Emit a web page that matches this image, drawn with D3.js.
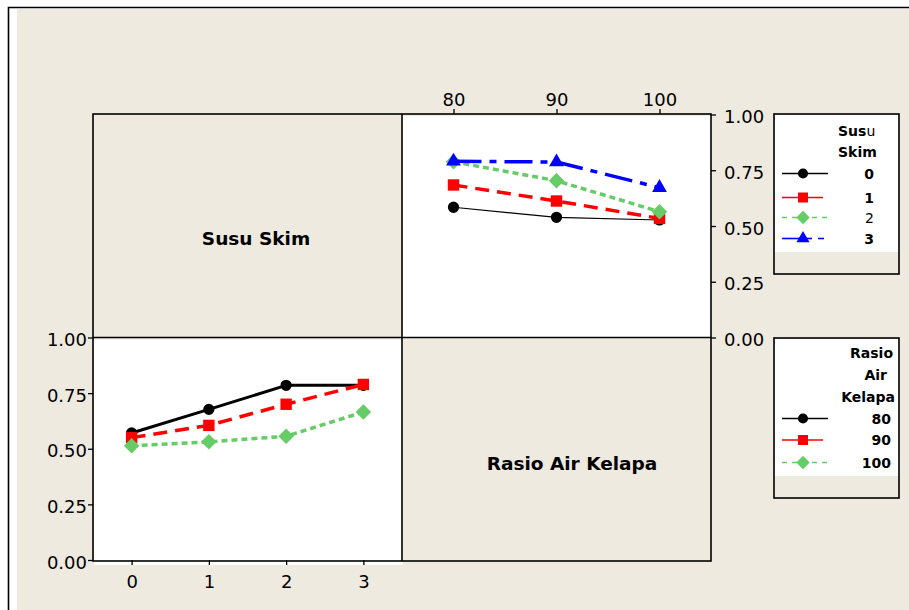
<!DOCTYPE html>
<html><head><meta charset="utf-8">
<script src="https://cdn.jsdelivr.net/npm/d3@7"></script>
<style>
html,body{margin:0;padding:0;background:#fff;}
svg{display:block;font-family:"DejaVu Sans",Verdana,sans-serif;}
</style></head>
<body>
<svg id="chart" width="909" height="610"></svg>
<script>
// ---------- data ----------
const susuLevels = [0, 1, 2, 3];
const rasioLevels = [80, 90, 100];
const yTicks = [0, 0.25, 0.5, 0.75, 1];
const yTickLabels = ["0.00", "0.25", "0.50", "0.75", "1.00"];

// Top-right panel: x = Rasio Air Kelapa, one line per Susu Skim level
const trSusu0 = [0.584, 0.539, 0.527];
const trSusu1 = [0.684, 0.612, 0.534];
const trSusu2 = [0.788, 0.703, 0.564];
const trSusu3 = [0.790, 0.787, 0.672];

// Bottom-left panel: x = Susu Skim, one line per Rasio Air Kelapa level
const blRasio80  = [0.571, 0.677, 0.785, 0.785];
const blRasio90  = [0.550, 0.605, 0.700, 0.789];
const blRasio100 = [0.513, 0.531, 0.556, 0.665];

const susuLegendLabels = ["0", "1", "2", "3"];
const rasioLegendLabels = ["80", "90", "100"];
const titleSusu = "Susu Skim";
const titleRasio = "Rasio Air Kelapa";

// ---------- styles ----------
const BG = "#EEEAE0";
const styles = [
  {color:"#000000", sym:"circle",   dashTR:null,           dashBL:null,          wTR:1.2, wBL:3},
  {color:"#FF0000", sym:"square",   dashTR:"14,8",         dashBL:"14,8",        wTR:3.5, wBL:3.5},
  {color:"#66CC66", sym:"diamond",  dashTR:"6,4",          dashBL:"6,4",         wTR:3.5, wBL:3.5},
  {color:"#0000FF", sym:"triangle", dashTR:"28,8,7,8",     dashBL:"28,8,7,8",    wTR:3.5, wBL:3.5}
];
function symPath(sym, big){
  const s = big ? {circle:100, square:130, diamond:120, triangle:95}
                : {circle:80, square:100, diamond:90, triangle:75};
  if (sym==="circle") return d3.symbol().type(d3.symbolCircle).size(s.circle)();
  if (sym==="square") return d3.symbol().type(d3.symbolSquare).size(s.square)();
  if (sym==="diamond") return d3.symbol().type(d3.symbolSquare).size(s.diamond)();
  return d3.symbol().type(d3.symbolTriangle).size(s.triangle)();
}
function symTransform(sym, x, y){
  return `translate(${x},${y})` + (sym==="diamond" ? " rotate(45)" : "");
}

const svg = d3.select("#chart");

// ---------- background & outer frame ----------
svg.append("rect").attr("x",0).attr("y",0).attr("width",909).attr("height",610).attr("fill","#fff");
svg.append("rect").attr("x",17).attr("y",9).attr("width",892).attr("height",601).attr("fill",BG);
svg.append("path").attr("d","M8.5,610 V7.5 H909").attr("fill","none").attr("stroke","#000").attr("stroke-width",1.6);

// ---------- panel geometry ----------
const L = 93, M = 402, R = 711, T = 114, H = 337.5, B = 561;

// scales
const trX = d3.scaleLinear().domain([75, 105]).range([M, R]);
const trY = d3.scaleLinear().domain([0, 1]).range([H, T + 0.5]);
const blX = d3.scaleLinear().domain([-0.5, 3.5]).range([L, M]);
const blY = d3.scaleLinear().domain([0, 1]).range([B - 1, H]);

// white data regions
svg.append("rect").attr("x",M+1).attr("y",T+2).attr("width",R-M-1).attr("height",H-T-2).attr("fill","#fff");
svg.append("rect").attr("x",L+1).attr("y",H+2).attr("width",M-L).attr("height",565-H-2).attr("fill","#fff");

// panel frames
const frame = svg.append("g").attr("fill","none").attr("stroke","#000").attr("stroke-width",1.6);
frame.append("rect").attr("x",L).attr("y",T).attr("width",R-L).attr("height",B-T);
frame.append("line").attr("x1",M).attr("x2",M).attr("y1",T).attr("y2",B);
frame.append("line").attr("x1",L).attr("x2",R).attr("y1",H).attr("y2",H);

// panel titles
svg.append("text").attr("x",256).attr("y",238).attr("dy","0.36em")
  .attr("text-anchor","middle").attr("font-weight","bold").attr("font-size",18.5).text(titleSusu);
svg.append("text").attr("x",572).attr("y",463).attr("dy","0.36em")
  .attr("text-anchor","middle").attr("font-weight","bold").attr("font-size",18.5).text(titleRasio);

// ---------- axes ----------
function styleAxis(g){
  g.select(".domain").remove();
  g.selectAll(".tick line").attr("stroke","#000").attr("stroke-width",1.3);
  g.selectAll(".tick text").attr("font-size",18).attr("fill","#000")
    .attr("font-family","'DejaVu Sans',Verdana,sans-serif");
}
const fmtY = d => yTickLabels[yTicks.indexOf(d)];

// top-right: x axis on top
svg.append("g").attr("transform",`translate(0,${T})`)
  .call(d3.axisTop(trX).tickValues(rasioLevels).tickSize(5).tickPadding(3).tickFormat(d=>String(d)))
  .call(styleAxis);
// top-right: y axis on right
svg.append("g").attr("transform",`translate(${R},0)`)
  .call(d3.axisRight(trY).tickValues(yTicks).tickSize(5).tickPadding(8).tickFormat(fmtY))
  .call(styleAxis)
  .selectAll(".tick text").attr("dy","0.45em");
// bottom-left: x axis on bottom
svg.append("g").attr("transform",`translate(0,${B-1})`)
  .call(d3.axisBottom(blX).tickValues(susuLevels).tickSize(5).tickPadding(10).tickFormat(d=>String(d)))
  .call(styleAxis);
// bottom-left: y axis on left
svg.append("g").attr("transform",`translate(${L},0)`)
  .call(d3.axisLeft(blY).tickValues(yTicks).tickSize(5).tickPadding(1).tickFormat(fmtY))
  .call(styleAxis)
  .selectAll(".tick text").attr("dy","0.45em");

// ---------- series ----------
function drawSeries(xs, ys, xScale, yScale, st, width, dash){
  const pts = xs.map((x,i)=>[xScale(x), yScale(ys[i])]);
  const g = svg.append("g");
  g.append("path").attr("d", d3.line()(pts)).attr("fill","none")
    .attr("stroke", st.color).attr("stroke-width", width)
    .attr("stroke-dasharray", dash).attr("stroke-linejoin","round");
  g.selectAll("path.m").data(pts).join("path").attr("class","m")
    .attr("d", symPath(st.sym, true)).attr("fill", st.color)
    .attr("transform", d => symTransform(st.sym, d[0], d[1]));
}
const trSeries = [trSusu0, trSusu1, trSusu2, trSusu3];
trSeries.forEach((ys,i)=> drawSeries(rasioLevels, ys, trX, trY, styles[i], styles[i].wTR, styles[i].dashTR));
const blSeries = [blRasio80, blRasio90, blRasio100];
blSeries.forEach((ys,i)=> drawSeries(susuLevels, ys, blX, blY, styles[i], styles[i].wBL, styles[i].dashBL));

// ---------- legends ----------
const legendDash = [null, null, "5,5", null];
function legend(y0, y1, whiteEnd, titleLines, labels, rowYs, labelX, boldFlags){
  const g = svg.append("g");
  g.append("rect").attr("x",774).attr("y",y0).attr("width",125).attr("height",y1-y0)
    .attr("fill",BG).attr("stroke","#000").attr("stroke-width",1.6);
  g.append("rect").attr("x",775).attr("y",y0+1).attr("width",123).attr("height",whiteEnd-y0-1).attr("fill","#fff");
  titleLines.forEach(t=>{
    const tx = g.append("text").attr("x",t.x).attr("y",t.y).attr("dy","0.36em")
      .attr("text-anchor",t.anchor).attr("font-size",14).attr("font-weight","bold");
    t.parts.forEach(p=> tx.append("tspan").attr("font-weight", p.bold ? "bold" : "normal").text(p.s));
  });
  labels.forEach((lab,i)=>{
    const st = styles[i], y = rowYs[i];
    if (st.sym==="triangle"){
      g.append("line").attr("x1",782).attr("x2",812).attr("y1",y).attr("y2",y).attr("stroke",st.color).attr("stroke-width",1.6);
      g.append("line").attr("x1",818).attr("x2",824).attr("y1",y).attr("y2",y).attr("stroke",st.color).attr("stroke-width",1.6);
    } else {
      g.append("line").attr("x1",782).attr("x2", st.sym==="square" ? 823 : 828).attr("y1",y).attr("y2",y)
        .attr("stroke",st.color).attr("stroke-width",1.6).attr("stroke-dasharray",legendDash[i]);
    }
    g.append("path").attr("d",symPath(st.sym,false)).attr("fill",st.color)
      .attr("transform",symTransform(st.sym,803,y));
    g.append("text").attr("x",labelX).attr("y",y).attr("dy","0.36em").attr("text-anchor","end")
      .attr("font-size",14).attr("font-weight", boldFlags[i] ? "bold" : "normal").text(lab);
  });
}
legend(114, 274, 252,
  [{x:838, y:131, anchor:"start", parts:[{s:"Sus",bold:true},{s:"u",bold:false}]},
   {x:838, y:152, anchor:"start", parts:[{s:"Skim",bold:true}]}],
  susuLegendLabels, [173.5, 197.5, 217.5, 238.5], 874, [true,true,false,true]);
legend(338, 498, 476,
  [{x:893, y:353, anchor:"end", parts:[{s:"Rasio",bold:true}]},
   {x:887, y:375, anchor:"end", parts:[{s:"Air",bold:true}]},
   {x:895, y:397, anchor:"end", parts:[{s:"Kelapa",bold:true}]}],
  rasioLegendLabels, [418.5, 440, 462.5], 891, [true,true,true]);
</script>
</body></html>
